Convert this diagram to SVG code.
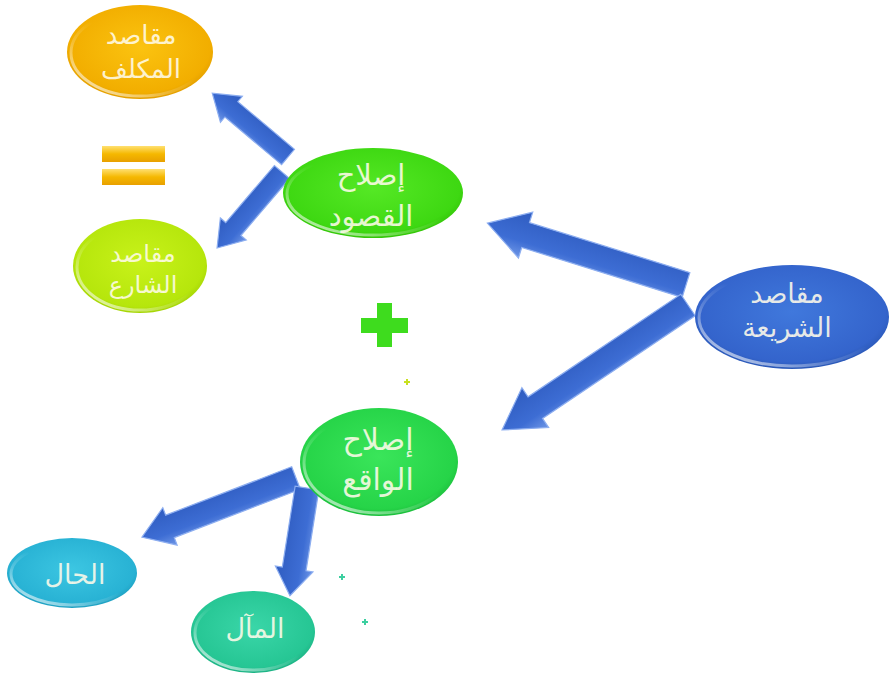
<svg xmlns="http://www.w3.org/2000/svg" width="895" height="677" viewBox="0 0 895 677">
<style>
.lbl{font-family:"DejaVu Sans","Noto Sans",sans-serif;fill:#FFFBEA;fill-opacity:0.88;text-anchor:middle}
.arw{stroke:#8DAEF0;stroke-width:1.2;stroke-linejoin:miter}
.hl{fill:none;stroke:url(#rim);stroke-width:3}
</style>
<defs>
<radialGradient id="gOr" cx="50%" cy="45%" r="60%"><stop offset="0" stop-color="#FBC310"/><stop offset="0.8" stop-color="#F2AE00"/><stop offset="1" stop-color="#D99400"/></radialGradient>
<radialGradient id="gYg" cx="50%" cy="45%" r="60%"><stop offset="0" stop-color="#C8F21A"/><stop offset="0.8" stop-color="#B6E60C"/><stop offset="1" stop-color="#98C800"/></radialGradient>
<radialGradient id="gGr" cx="50%" cy="45%" r="60%"><stop offset="0" stop-color="#55E825"/><stop offset="0.8" stop-color="#3ED812"/><stop offset="1" stop-color="#2CB800"/></radialGradient>
<radialGradient id="gBl" cx="50%" cy="45%" r="60%"><stop offset="0" stop-color="#4078DC"/><stop offset="0.8" stop-color="#3464CC"/><stop offset="1" stop-color="#2450A8"/></radialGradient>
<radialGradient id="gGr2" cx="50%" cy="45%" r="60%"><stop offset="0" stop-color="#3AE55A"/><stop offset="0.8" stop-color="#26D448"/><stop offset="1" stop-color="#15B034"/></radialGradient>
<radialGradient id="gCy" cx="50%" cy="45%" r="60%"><stop offset="0" stop-color="#3CC6E2"/><stop offset="0.8" stop-color="#28B2D4"/><stop offset="1" stop-color="#1892B2"/></radialGradient>
<radialGradient id="gTe" cx="50%" cy="45%" r="60%"><stop offset="0" stop-color="#3AD6A8"/><stop offset="0.8" stop-color="#26C694"/><stop offset="1" stop-color="#15A478"/></radialGradient>
<linearGradient id="rim" x1="0" y1="1" x2="0.7" y2="0.2"><stop offset="0" stop-color="#FFFFFF" stop-opacity="0.85"/><stop offset="0.45" stop-color="#FFFFFF" stop-opacity="0.2"/><stop offset="0.7" stop-color="#FFFFFF" stop-opacity="0"/></linearGradient>
<linearGradient id="gArrow" x1="0" y1="0" x2="0" y2="1"><stop offset="0" stop-color="#6E96E6"/><stop offset="0.35" stop-color="#3D6DD4"/><stop offset="1" stop-color="#2F5CC0"/></linearGradient>
<linearGradient id="gEq" x1="0" y1="0" x2="0" y2="1"><stop offset="0" stop-color="#FFE070"/><stop offset="0.5" stop-color="#F5B800"/><stop offset="1" stop-color="#E8A000"/></linearGradient>
</defs>

<g id="connectors">
<polygon class="arw" fill="url(#gArrow)" transform="translate(686,285) rotate(197.3)" points="0,-13 168,-13 168,-24 208,0 168,24 168,13 0,13"/>
<polygon class="arw" fill="url(#gArrow)" transform="translate(688,305) rotate(146.1)" points="0,-13 184,-13 184,-24 224,0 184,24 184,13 0,13"/>
<polygon class="arw" fill="url(#gArrow)" transform="translate(288,157) rotate(220.1)" points="0,-10 74,-10 74,-17 99,0 74,17 74,10 0,10"/>
<polygon class="arw" fill="url(#gArrow)" transform="translate(282,172) rotate(130.5)" points="0,-10 75,-10 75,-17 100,0 75,17 75,10 0,10"/>
<polygon class="arw" fill="url(#gArrow)" transform="translate(296,478) rotate(159)" points="0,-12 135,-12 135,-20 165,0 135,20 135,12 0,12"/>
<polygon class="arw" fill="url(#gArrow)" transform="translate(307,488) rotate(99)" points="0,-12 82,-12 82,-19 109,0 82,19 82,12 0,12"/>
</g>

<g id="equals">
<rect x="102" y="146" width="63" height="16" fill="url(#gEq)"/>
<rect x="102" y="169" width="63" height="16" fill="url(#gEq)"/>
</g>

<g id="plus-big">
<rect x="377" y="303" width="15" height="44" fill="#3EDC1E"/>
<rect x="361" y="318" width="47" height="15" fill="#3EDC1E"/>
</g>
<g id="plus-small">
<path d="M404 382h6M407 379v6" stroke="#C8E020" stroke-width="2"/>
<path d="M339 577h6M342 574v6" stroke="#3CCFA0" stroke-width="2"/>
<path d="M362 622h6M365 619v6" stroke="#3CCFA0" stroke-width="2"/>
</g>

<g id="n-mukallaf">
<ellipse cx="140" cy="52" rx="73" ry="47" fill="url(#gOr)"/>
<ellipse class="hl" cx="140" cy="53" rx="69" ry="43"/>
<text class="lbl" x="141" y="44" font-size="26">مقاصد</text>
<text class="lbl" x="141" y="78" font-size="26">المكلف</text>
</g>

<g id="n-shari">
<ellipse cx="140" cy="266" rx="67" ry="47" fill="url(#gYg)"/>
<ellipse class="hl" cx="140" cy="267" rx="63" ry="43"/>
<text class="lbl" x="143" y="262" font-size="24">مقاصد</text>
<text class="lbl" x="143" y="293" font-size="24">الشارع</text>
</g>

<g id="n-qusud">
<ellipse cx="373" cy="193" rx="90" ry="45" fill="url(#gGr)"/>
<ellipse class="hl" cx="373" cy="194" rx="86" ry="41"/>
<text class="lbl" x="371" y="185" font-size="29">إصلاح</text>
<text class="lbl" x="371" y="226" font-size="29">القصود</text>
</g>

<g id="n-sharia">
<ellipse cx="792" cy="317" rx="97" ry="52" fill="url(#gBl)"/>
<ellipse class="hl" cx="792" cy="318" rx="93" ry="48"/>
<text class="lbl" x="787" y="303" font-size="27">مقاصد</text>
<text class="lbl" x="787" y="337" font-size="27">الشريعة</text>
</g>

<g id="n-waqi">
<ellipse cx="379" cy="462" rx="79" ry="54" fill="url(#gGr2)"/>
<ellipse class="hl" cx="379" cy="463" rx="75" ry="50"/>
<text class="lbl" x="378" y="450" font-size="30">إصلاح</text>
<text class="lbl" x="378" y="490" font-size="30">الواقع</text>
</g>

<g id="n-hal">
<ellipse cx="72" cy="573" rx="65" ry="35" fill="url(#gCy)"/>
<ellipse class="hl" cx="72" cy="574" rx="61" ry="31"/>
<text class="lbl" x="75" y="584" font-size="27">الحال</text>
</g>

<g id="n-maal">
<ellipse cx="253" cy="632" rx="62" ry="41" fill="url(#gTe)"/>
<ellipse class="hl" cx="253" cy="633" rx="58" ry="37"/>
<text class="lbl" x="255" y="638" font-size="27">المآل</text>
</g>
</svg>
